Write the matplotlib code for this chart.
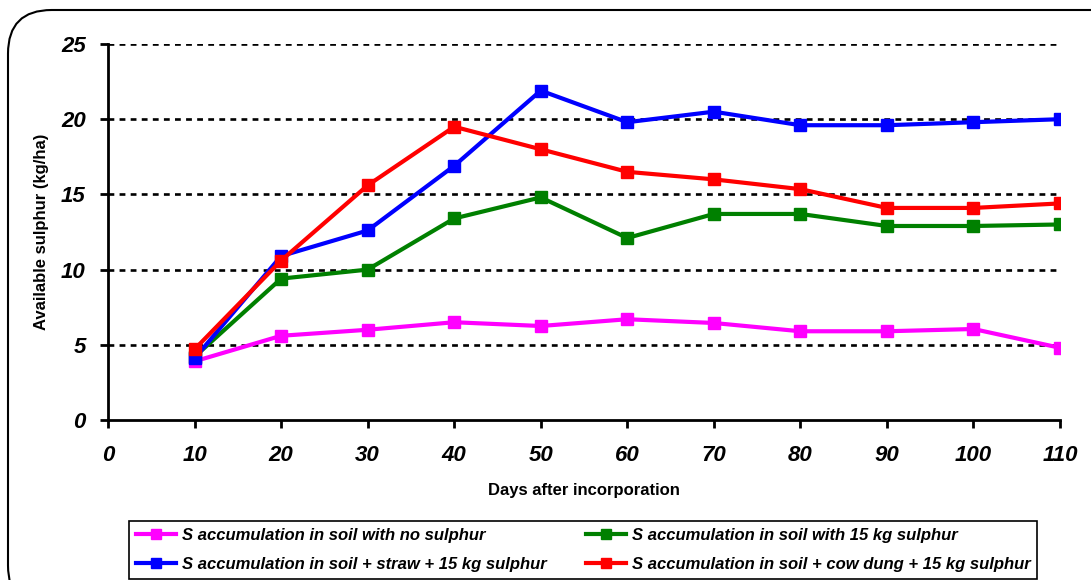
import matplotlib.pyplot as plt
from matplotlib.patches import FancyBboxPatch

plt.rcParams["font.family"] = ["Liberation Sans", "DejaVu Sans"]

days = [10, 20, 30, 40, 50, 60, 70, 80, 90, 100, 110]
no_sulphur = [3.9, 5.6, 6.0, 6.5, 6.25, 6.7, 6.45, 5.9, 5.9, 6.05, 4.8]
sulphur_15 = [4.2, 9.4, 10.0, 13.4, 14.8, 12.1, 13.7, 13.7, 12.9, 12.9, 13.0]
straw_15 = [4.1, 10.9, 12.6, 16.9, 21.9, 19.8, 20.5, 19.6, 19.6, 19.8, 20.0]
dung_15 = [4.7, 10.6, 15.6, 19.5, 18.0, 16.5, 16.0, 15.35, 14.1, 14.1, 14.4]

labels = [
    "S accumulation in soil with no sulphur",
    "S accumulation in soil with 15 kg sulphur",
    "S accumulation in soil + straw + 15 kg sulphur",
    "S accumulation in soil + cow dung + 15 kg sulphur",
]
colors = ["#ff00ff", "#008000", "#0000ff", "#ff0000"]

fig = plt.figure(figsize=(10.91, 5.8), dpi=100)
ax = fig.add_axes([108 / 1091, 1 - 420 / 580, (1060 - 108) / 1091, (420 - 44) / 580])

# rounded frame around the whole chart
frame = FancyBboxPatch(
    (8 / 1091, -0.05), 1.05, 1 - 10 / 580 + 0.05,
    boxstyle="round,pad=0,rounding_size=0.04",
    transform=fig.transFigure, fill=False, edgecolor="black", linewidth=1.5,
    mutation_aspect=1091 / 580, clip_on=False,
)
fig.patches.append(frame)

lines = []
for series, c, lab in zip([no_sulphur, sulphur_15, straw_15, dung_15], colors, labels):
    (ln,) = ax.plot(days, series, color=c, linewidth=3, marker="s", markersize=8,
                    label=lab, zorder=3)
    lines.append(ln)

ax.set_xlim(0, 110)
ax.set_ylim(0, 25)
ax.set_xticks(range(0, 111, 10))
ax.set_yticks(range(0, 26, 5))
for y in [5, 10, 15, 20, 25]:
    ax.axhline(y, color="black", linestyle=(0, (2.2, 2.0)), linewidth=1.9, zorder=1)

for side in ["top", "right"]:
    ax.spines[side].set_visible(False)
for side in ["left", "bottom"]:
    ax.spines[side].set_linewidth(2)
ax.tick_params(axis="both", direction="out", width=2, length=6)
ax.tick_params(axis="x", pad=12)
ax.tick_params(axis="y", pad=10)
for t in ax.get_xticklabels() + ax.get_yticklabels():
    t.set_fontsize(16)
    t.set_fontweight("bold")
    t.set_fontstyle("italic")

ax.set_xlabel("Days after incorporation", fontsize=12, fontweight="bold", labelpad=12)
ax.set_ylabel("Available sulphur (kg/ha)", fontsize=12, fontweight="bold", labelpad=9)

leg = fig.legend(
    [lines[0], lines[2], lines[1], lines[3]],
    [labels[0], labels[2], labels[1], labels[3]],
    ncol=2, loc="upper left",
    bbox_to_anchor=(129 / 1091, 1 - 521 / 580, (1037 - 129) / 1091, 0),
    mode="expand", fancybox=False, edgecolor="black", framealpha=1,
    prop={"size": 12, "weight": "bold", "style": "italic"},
    handlelength=2.4, handletextpad=0.35, markerscale=0.9, borderaxespad=0,
    borderpad=0.4, columnspacing=1.0, labelspacing=0.85,
)
leg.get_frame().set_linewidth(1.2)

fig.savefig("out.png", dpi=100)
